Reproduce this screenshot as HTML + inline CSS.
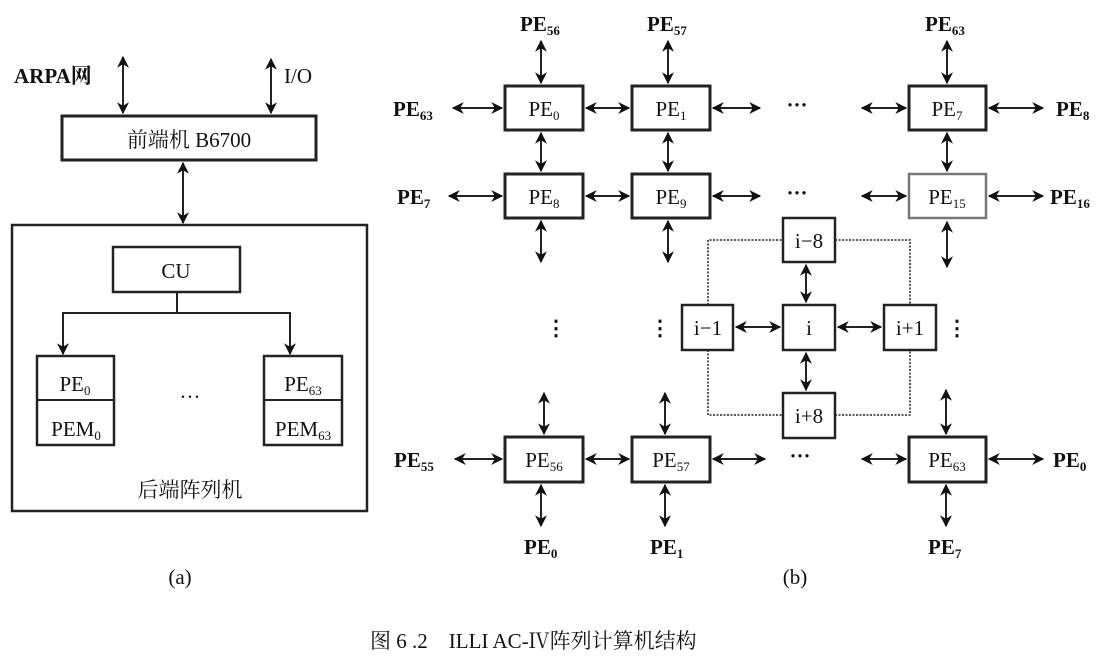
<!DOCTYPE html>
<html><head><meta charset="utf-8"><style>
html,body{margin:0;padding:0;background:#fff}
svg{display:block}
text{font-family:"Liberation Serif","Noto Serif CJK SC",serif;fill:#111}
.c{font-family:"Liberation Serif","Noto Serif CJK SC","Noto Sans CJK SC",serif}
.b{font-weight:bold}
</style></head><body>
<svg width="1112" height="667" viewBox="0 0 1112 667" xmlns="http://www.w3.org/2000/svg">
<defs>
<marker id="a" viewBox="0 0 10 10" refX="9" refY="5" markerWidth="6" markerHeight="6" orient="auto-start-reverse"><path d="M0,0 L10,5 L0,10 L3,5 z" fill="#111"/></marker>
</defs>
<g stroke="#222" stroke-width="2" fill="none">
<line x1="123" y1="57" x2="123" y2="113" marker-start="url(#a)" marker-end="url(#a)"/>
<line x1="271" y1="59" x2="271" y2="113" marker-start="url(#a)" marker-end="url(#a)"/>
<rect x="62" y="116" width="254" height="44" stroke-width="3"/>
<line x1="183" y1="163" x2="183" y2="223" marker-start="url(#a)" marker-end="url(#a)"/>
<rect x="12" y="225" width="355" height="286" stroke-width="2.5"/>
<rect x="113" y="247" width="127" height="45" stroke-width="2.5"/>
<polyline points="177,292 177,313 63,313 63,354" marker-end="url(#a)"/>
<polyline points="177,313 290,313 290,354" marker-end="url(#a)"/>
<rect x="37" y="356" width="77" height="89" stroke-width="2.5"/>
<line x1="37" y1="400" x2="114" y2="400"/>
<rect x="264" y="356" width="78" height="89" stroke-width="2.5"/>
<line x1="264" y1="400" x2="342" y2="400"/>
</g>
<g font-size="21">
<text x="14" y="83" class="c b">ARPA网</text>
<text x="284" y="83">I/O</text>
<text x="189" y="147" text-anchor="middle" class="c">前端机 B6700</text>
<text x="176" y="278" text-anchor="middle">CU</text>
<text x="75" y="391" text-anchor="middle">PE<tspan font-size="13" dy="4">0</tspan></text>
<text x="76" y="436" text-anchor="middle">PEM<tspan font-size="13" dy="4">0</tspan></text>
<text x="303" y="391" text-anchor="middle">PE<tspan font-size="13" dy="4">63</tspan></text>
<text x="303" y="436" text-anchor="middle">PEM<tspan font-size="13" dy="4">63</tspan></text>
<text x="190" y="404" text-anchor="middle">···</text>
<text x="190" y="497" text-anchor="middle" class="c">后端阵列机</text>
<text x="180" y="584" text-anchor="middle">(a)</text>
</g>
<g stroke="#222" stroke-width="2" fill="none">
<rect x="505" y="86" width="78" height="44" stroke-width="3"/>
<rect x="632" y="86" width="78" height="44" stroke-width="3"/>
<rect x="909" y="86" width="77" height="44" stroke-width="3"/>
<rect x="505" y="174" width="78" height="44" stroke-width="3"/>
<rect x="632" y="174" width="78" height="44" stroke-width="3"/>
<rect x="909" y="174" width="77" height="44" stroke="#777" stroke-width="2.5"/>
<rect x="505" y="437" width="78" height="45" stroke-width="3"/>
<rect x="632" y="437" width="78" height="45" stroke-width="3"/>
<rect x="909" y="437" width="77" height="45" stroke-width="3"/>
<rect x="783" y="218" width="52" height="44" stroke-width="2.5"/>
<rect x="783" y="305" width="52" height="45" stroke-width="2.5"/>
<rect x="783" y="393" width="52" height="45" stroke-width="2.5"/>
<rect x="682" y="305" width="51" height="45" stroke-width="2.5"/>
<rect x="884" y="305" width="52" height="45" stroke-width="2.5"/>
<g stroke-dasharray="2,1.5" stroke-width="1.5">
<polyline points="708,305 708,240 783,240"/>
<polyline points="835,240 910,240 910,305"/>
<polyline points="708,350 708,415 783,415"/>
<polyline points="835,415 910,415 910,350"/>
</g>
<g marker-start="url(#a)" marker-end="url(#a)">
<line x1="541" y1="41" x2="541" y2="83"/>
<line x1="668" y1="41" x2="668" y2="83"/>
<line x1="947" y1="41" x2="947" y2="83"/>
<line x1="541" y1="133" x2="541" y2="171"/>
<line x1="668" y1="133" x2="668" y2="171"/>
<line x1="947" y1="133" x2="947" y2="171"/>
<line x1="541" y1="221" x2="541" y2="262"/>
<line x1="668" y1="221" x2="668" y2="262"/>
<line x1="947" y1="222" x2="947" y2="267"/>
<line x1="453" y1="108" x2="502" y2="108"/>
<line x1="586" y1="108" x2="629" y2="108"/>
<line x1="713" y1="108" x2="760" y2="108"/>
<line x1="862" y1="108" x2="906" y2="108"/>
<line x1="989" y1="108" x2="1043" y2="108"/>
<line x1="449" y1="196" x2="502" y2="196"/>
<line x1="586" y1="196" x2="629" y2="196"/>
<line x1="713" y1="196" x2="760" y2="196"/>
<line x1="862" y1="196" x2="906" y2="196"/>
<line x1="989" y1="196" x2="1043" y2="196"/>
<line x1="455" y1="459" x2="502" y2="459"/>
<line x1="586" y1="459" x2="629" y2="459"/>
<line x1="713" y1="459" x2="765" y2="459"/>
<line x1="862" y1="459" x2="906" y2="459"/>
<line x1="989" y1="459" x2="1043" y2="459"/>
<line x1="544" y1="393" x2="544" y2="434"/>
<line x1="665" y1="393" x2="665" y2="434"/>
<line x1="946" y1="390" x2="946" y2="434"/>
<line x1="541" y1="485" x2="541" y2="526"/>
<line x1="665" y1="485" x2="665" y2="526"/>
<line x1="946" y1="485" x2="946" y2="526"/>
<line x1="806" y1="265" x2="806" y2="302"/>
<line x1="806" y1="353" x2="806" y2="390"/>
<line x1="736" y1="327" x2="780" y2="327"/>
<line x1="838" y1="327" x2="881" y2="327"/>
</g>
</g>
<g font-size="21">
<g class="b">
<text x="520" y="31">PE<tspan font-size="13" dy="4">56</tspan></text>
<text x="647" y="31">PE<tspan font-size="13" dy="4">57</tspan></text>
<text x="925" y="31">PE<tspan font-size="13" dy="4">63</tspan></text>
<text x="393" y="116">PE<tspan font-size="13" dy="4">63</tspan></text>
<text x="1056" y="116">PE<tspan font-size="13" dy="4">8</tspan></text>
<text x="397" y="204">PE<tspan font-size="13" dy="4">7</tspan></text>
<text x="1050" y="204">PE<tspan font-size="13" dy="4">16</tspan></text>
<text x="394" y="467">PE<tspan font-size="13" dy="4">55</tspan></text>
<text x="1053" y="467">PE<tspan font-size="13" dy="4">0</tspan></text>
<text x="524" y="554">PE<tspan font-size="13" dy="4">0</tspan></text>
<text x="650" y="554">PE<tspan font-size="13" dy="4">1</tspan></text>
<text x="928" y="554">PE<tspan font-size="13" dy="4">7</tspan></text>
</g>
<text x="544" y="116" text-anchor="middle">PE<tspan font-size="13" dy="4">0</tspan></text>
<text x="671" y="116" text-anchor="middle">PE<tspan font-size="13" dy="4">1</tspan></text>
<text x="947" y="116" text-anchor="middle">PE<tspan font-size="13" dy="4">7</tspan></text>
<text x="544" y="204" text-anchor="middle">PE<tspan font-size="13" dy="4">8</tspan></text>
<text x="671" y="204" text-anchor="middle">PE<tspan font-size="13" dy="4">9</tspan></text>
<text x="947" y="204" text-anchor="middle">PE<tspan font-size="13" dy="4">15</tspan></text>
<text x="544" y="467" text-anchor="middle">PE<tspan font-size="13" dy="4">56</tspan></text>
<text x="671" y="467" text-anchor="middle">PE<tspan font-size="13" dy="4">57</tspan></text>
<text x="947" y="467" text-anchor="middle">PE<tspan font-size="13" dy="4">63</tspan></text>
<text x="809" y="248" text-anchor="middle">i−8</text>
<text x="809" y="335" text-anchor="middle">i</text>
<text x="809" y="423" text-anchor="middle">i+8</text>
<text x="708" y="335" text-anchor="middle">i−1</text>
<text x="910" y="335" text-anchor="middle">i+1</text>
<text x="797" y="112" text-anchor="middle" class="b">···</text>
<text x="797" y="200" text-anchor="middle" class="b">···</text>
<text x="800" y="463" text-anchor="middle" class="b">···</text>
<text x="556" y="335" text-anchor="middle" class="b">⋮</text>
<text x="660" y="335" text-anchor="middle" class="b">⋮</text>
<text x="957" y="335" text-anchor="middle" class="b">⋮</text>
<text x="795" y="584" text-anchor="middle">(b)</text>
<text x="370" y="648" class="c">图 6 .2　ILLI AC-Ⅳ阵列计算机结构</text>
</g>
</svg>
</body></html>
